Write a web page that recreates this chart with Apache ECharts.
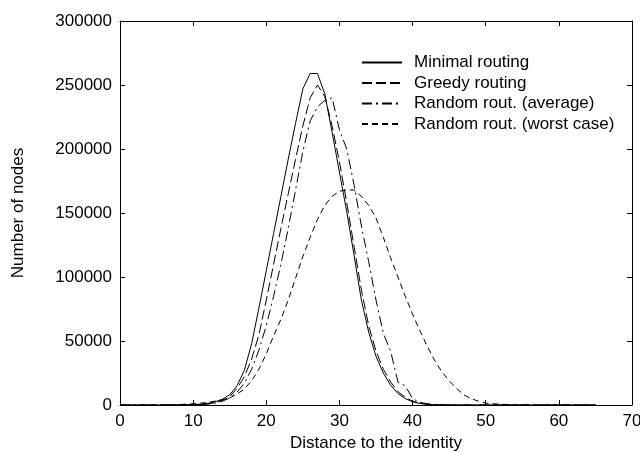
<!DOCTYPE html>
<html>
<head>
<meta charset="utf-8">
<script src="https://cdn.jsdelivr.net/npm/echarts@6/dist/echarts.min.js"></script>
<style>
html,body{margin:0;padding:0;background:#fff;}
#chart{width:640px;height:452px;}
</style>
</head>
<body>
<div id="chart"></div>
<script>
var distances = [0,1,2,3,4,5,6,7,8,9,10,11,12,13,14,15,16,17,18,19,20,21,22,23,24,25,26,27,28,29,30,31,32,33,34,35,36,37,38,39,40,41,42,43,44,45,46,47,48,49,50,51,52,53,54,55,56,57,58,59,60,61,62,63,64,65];
var minimalRouting = [0,0,0,0,0,0,10,30,60,150,300,700,1300,2500,4500,8000,15000,27000,48000,76000,105000,134000,163000,192000,220000,247000,259000,259000,243000,213000,182000,151000,117000,82000,57000,38000,25000,15500,9000,5000,2500,1200,500,200,80,30,10,0,0,0,0,0,0,0,0,0,0,0,0,0,0,0,0,0,0,0];
var greedyRouting = [0,0,0,0,0,0,10,20,50,100,200,400,900,1800,3500,6500,13000,22000,36000,55000,82000,110000,138000,165000,192000,218000,240000,250000,241000,218000,190000,158000,124000,90000,62000,42000,28000,18000,10500,6000,3000,1500,700,300,120,50,20,10,0,0,0,0,0,0,0,0,0,0,0,0,0,0,0,0,0,0];
var randomAverage = [0,0,0,0,0,0,0,10,30,60,100,300,700,1500,3000,5500,10000,17000,28000,43000,62000,85000,110000,138000,168000,198000,222000,233000,238000,240000,215000,200000,172000,140000,112000,82000,56000,42000,18000,15000,5000,2000,1000,500,200,80,30,10,0,0,0,0,0,0,0,0,0,0,0,0,0,0,0,0,0,0];
var randomWorst = [0,0,0,0,0,50,100,200,350,600,1000,1500,2000,3000,4000,5500,8500,12500,19000,28000,40000,54000,67000,82000,99000,116000,131000,145000,156000,163000,167000,168000,168000,163000,156000,146000,131000,115000,100000,85000,71000,58000,46000,35000,26000,19000,13000,8000,5000,3000,1500,1000,600,400,250,150,100,60,40,20,10,0,0,0,0,0];
var xTicks = [0,10,20,30,40,50,60,70];
var yTicks = [0,50000,100000,150000,200000,250000,300000];
var seriesNames = ['Minimal routing','Greedy routing','Random rout. (average)','Random rout. (worst case)'];

function pairs(ys){ return distances.map(function(x,i){ return [x, ys[i]]; }); }

var FONT = 'Liberation Sans';
var FS = 17;
var xMin = xTicks[0], xMax = xTicks[xTicks.length-1], xInt = xTicks[1]-xTicks[0];
var yMin = yTicks[0], yMax = yTicks[yTicks.length-1], yInt = yTicks[1]-yTicks[0];

function xAxisCfg(pos, showLabel){
  return {
    type:'value', position:pos, min:xMin, max:xMax, interval:xInt,
    name: showLabel ? 'Distance to the identity' : '',
    nameLocation:'middle', nameGap:30,
    nameTextStyle:{color:'#000', fontFamily:FONT, fontSize:FS},
    axisLine:{show:true, onZero:false, lineStyle:{color:'#000', width:1}},
    axisTick:{show:true, inside:true, length:5, lineStyle:{color:'#000', width:1}},
    axisLabel:{show:showLabel, color:'#000', fontFamily:FONT, fontSize:FS, margin:8},
    splitLine:{show:false}
  };
}
function yAxisCfg(pos, showLabel){
  return {
    type:'value', position:pos, min:yMin, max:yMax, interval:yInt,
    name: showLabel ? 'Number of nodes' : '',
    nameLocation:'middle', nameGap:93, nameRotate:90,
    nameTextStyle:{color:'#000', fontFamily:FONT, fontSize:FS},
    axisLine:{show:true, onZero:false, lineStyle:{color:'#000', width:1}},
    axisTick:{show:true, inside:true, length:5, lineStyle:{color:'#000', width:1}},
    axisLabel:{show:showLabel, color:'#000', fontFamily:FONT, fontSize:FS, margin:8,
      formatter:function(v){ return String(v); }},
    splitLine:{show:false}
  };
}

var dashes = ['solid', [10,4], [10,4,2,4], [6,4]];
var datasets = [minimalRouting, greedyRouting, randomAverage, randomWorst];

var chart = echarts.init(document.getElementById('chart'), null, {renderer:'canvas'});
chart.setOption({
  animation:false,
  backgroundColor:'#fff',
  grid:{left:120, right:8, top:21, bottom:47, containLabel:false, outerBoundsMode:'none'},
  xAxis:[xAxisCfg('bottom', true), xAxisCfg('top', false)],
  yAxis:[yAxisCfg('left', true), yAxisCfg('right', false)],
  legend:{
    orient:'vertical', left:361, top:54, padding:0,
    itemWidth:40, itemHeight:14, itemGap:3.5,
    itemStyle:{opacity:0},
    textStyle:{color:'#000', fontFamily:FONT, fontSize:FS, lineHeight:17, padding:[0,0,0,7]},
    data:seriesNames
  },
  series: datasets.map(function(d,i){
    return {
      name:seriesNames[i], type:'line', xAxisIndex:0, yAxisIndex:0,
      data:pairs(d), symbol:'none', showSymbol:false, smooth:false,
      lineStyle:{color:'#000', width:1, type:dashes[i]},
      itemStyle:{color:'#000'},
      emphasis:{disabled:true}
    };
  })
});
</script>
</body>
</html>
